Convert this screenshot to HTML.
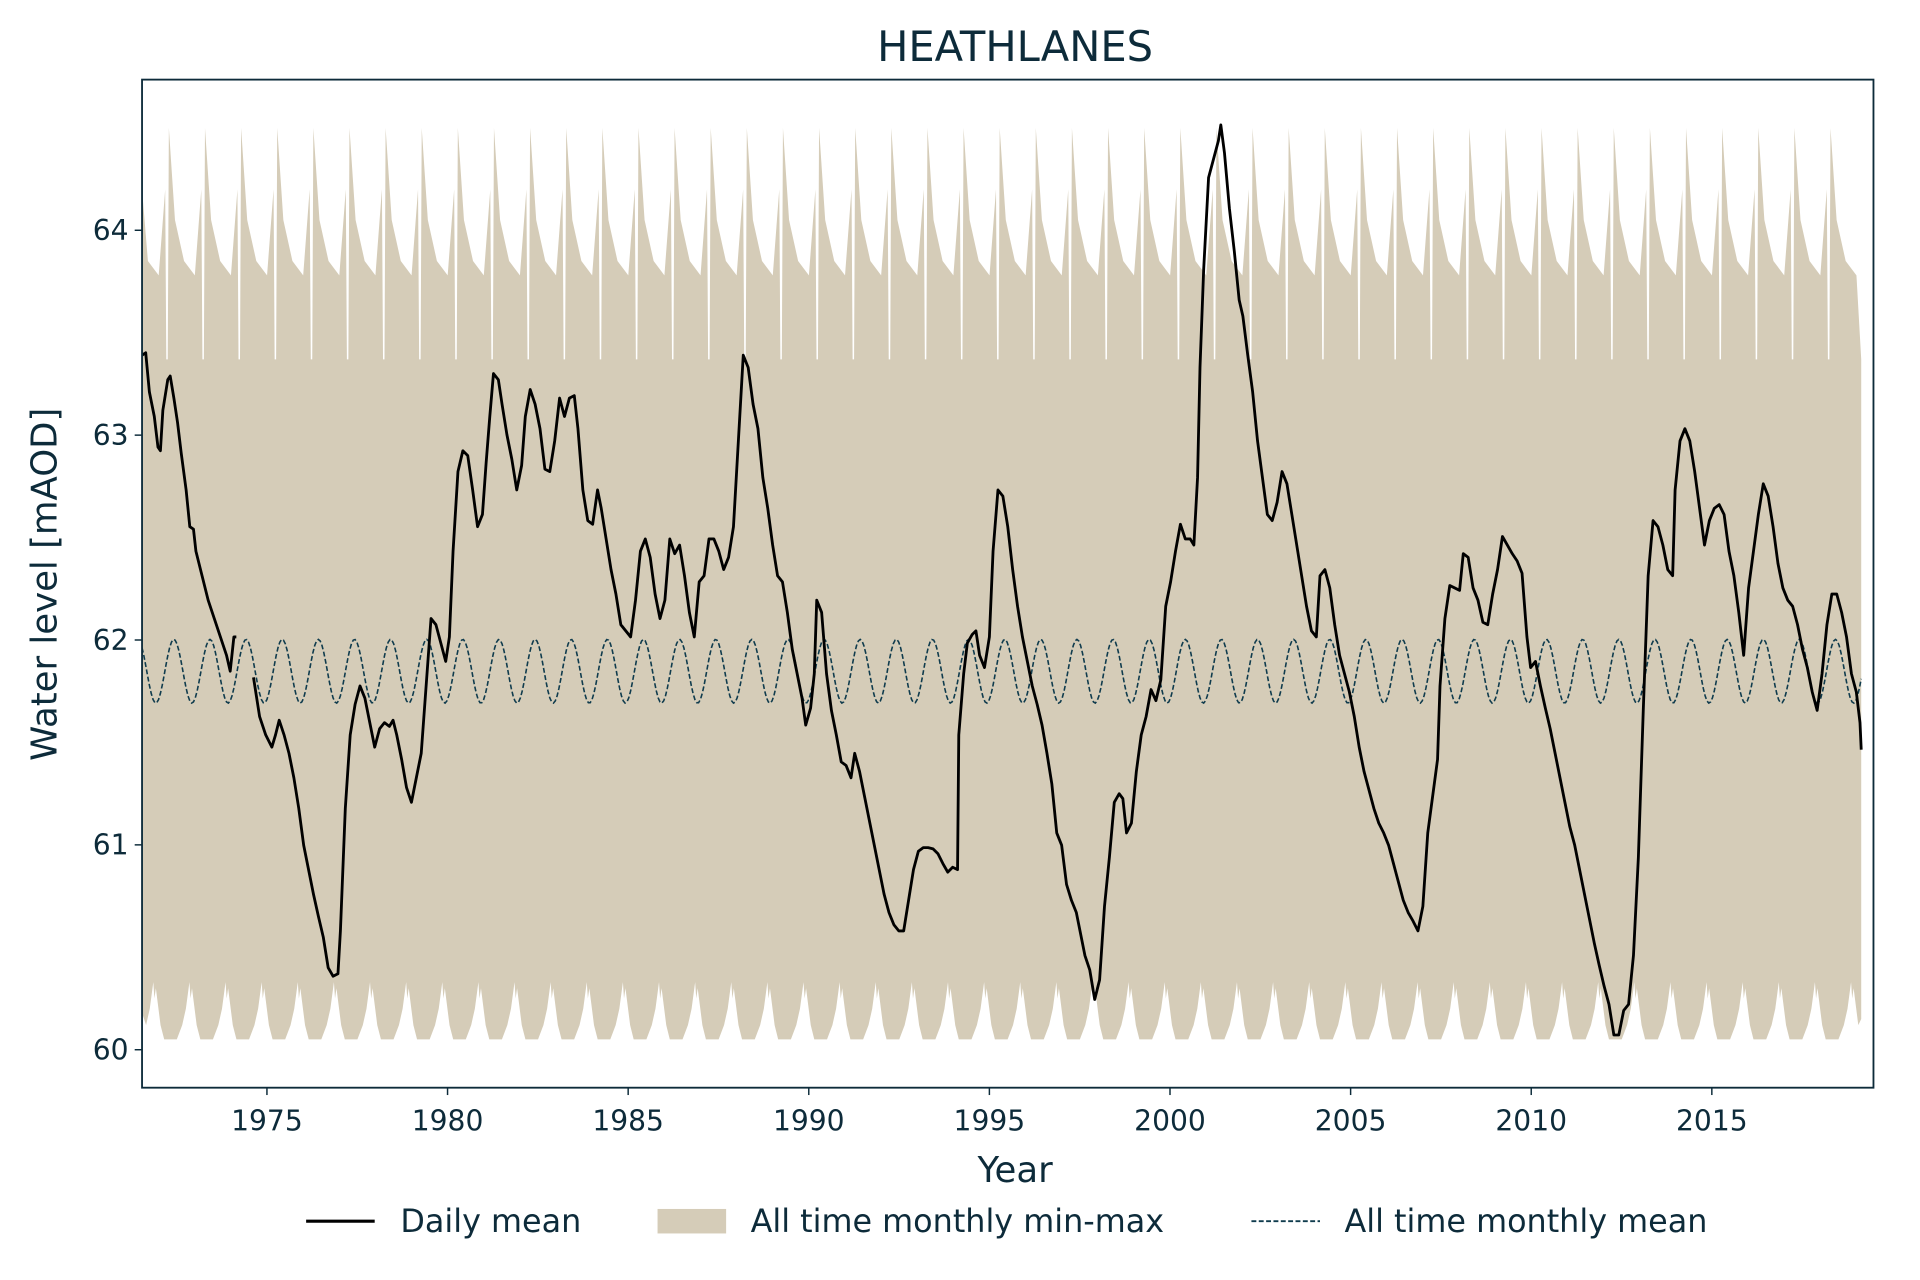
<!DOCTYPE html>
<html><head><meta charset="utf-8"><style>
html,body{margin:0;padding:0;background:#fff;width:1920px;height:1280px;overflow:hidden}
#w{width:1568px;height:1045px;transform:scale(1.22449,1.22488);transform-origin:0 0}
text{font-family:"DejaVu Sans","Liberation Sans",sans-serif;fill:#0d2b3a}
</style></head><body><div id="w">
<svg id="s" width="1568" height="1045" xmlns="http://www.w3.org/2000/svg">
<defs><clipPath id="c"><rect x="116" y="65" width="1414" height="823"/></clipPath></defs>
<g id="plot" clip-path="url(#c)"></g>
<rect x="116" y="65" width="1414" height="823" fill="none" stroke="#0d2b3a" stroke-width="1.5"/>
<g id="ax"></g>
<text x="829" y="50" font-size="34" text-anchor="middle">HEATHLANES</text>
<text x="829" y="965" font-size="29" text-anchor="middle">Year</text>
<text transform="translate(46,477) rotate(-90)" font-size="29" text-anchor="middle">Water level [mAOD]</text>
<line x1="250" y1="997" x2="306" y2="997" stroke="#000" stroke-width="2.5"/>
<text x="327" y="1006" font-size="26">Daily mean</text>
<rect x="537" y="987" width="56" height="20" fill="#d5ccb8"/>
<text x="613" y="1006" font-size="26">All time monthly min-max</text>
<line x1="1022" y1="997" x2="1078" y2="997" stroke="#0f3b4d" stroke-width="1.5" stroke-dasharray="4,2"/>
<text x="1098" y="1006" font-size="26">All time monthly mean</text>
</svg></div>
<script>
var X=function(yr){return 218+(yr-1975)*29.5},Y=function(v){return 857-(v-60)*167.25};
var p=document.getElementById('plot'),ax=document.getElementById('ax'),NS='http://www.w3.org/2000/svg';
function el(t,a,par){var e=document.createElementNS(NS,t);for(var k in a)e.setAttribute(k,a[k]);(par||p).appendChild(e);return e}
var x0=116,x1=1520,up=[],lo=[];
var U=[[0,63.37],[0.03,64.5],[0.2,64.05],[0.45,63.85],[0.75,63.78],[0.93,64.2],[0.96,63.37]];
var L=[[0,60.05],[0.25,60.05],[0.4,60.12],[0.5,60.2],[0.6,60.33],[0.63,60.25],[0.67,60.3],[0.8,60.12],[0.9,60.05]];
for(var k=-1;k<50;k++){var b=137+29.5*k;
U.forEach(function(q){var x=b+q[0]*29.5;if(x>=x0&&x<=x1)up.push([x,Y(q[1])])});
L.forEach(function(q){var x=b+q[0]*29.5;if(x>=x0&&x<=x1)lo.push([x,Y(q[1])])});}
up.unshift([x0,Y(64.2)]);up.push([x1,Y(63.37)]);lo.unshift([x0,Y(60.18)]);lo.push([x1,Y(60.15)]);
var d='M'+up.map(function(q){return q[0].toFixed(1)+','+q[1].toFixed(1)}).join('L');
d+='L'+lo.reverse().map(function(q){return q[0].toFixed(1)+','+q[1].toFixed(1)}).join('L')+'Z';
el('path',{d:d,fill:'#d5ccb8'});
var m=[];for(var x=x0;x<=x1;x+=1.5){var ph=(x-142)/29.5*2*Math.PI;m.push(x.toFixed(1)+','+(548-26*Math.cos(ph)).toFixed(1))}
el('polyline',{points:m.join(' '),fill:'none',stroke:'#0f3b4d','stroke-width':1.3,'stroke-dasharray':'4,2'});
var a="116,290 119,288 122,320 126,340 129,365 131,368 133,335 137,310 139,307 142,325 145,345 148,370 152,400 155,430 158,432 160,450 165,470 170,490 175,505 180,520 185,535 188,548 191,520 193,520";
var b2="207,553 212,585 217,600 222,610 225,600 228,588 232,600 236,615 240,635 244,660 248,690 252,710 256,730 260,748 264,765 268,790 272,797 276,795 278,760 282,660 286,600 290,575 294,560 298,570 302,590 306,610 310,595 314,590 318,593 321,588 324,600 328,620 332,643 336,655 340,635 344,615 348,560 352,505 356,510 360,525 364,540 367,520 370,450 374,385 378,368 382,372 386,400 390,430 394,420 397,378 400,340 403,305 407,310 410,330 414,355 418,375 422,400 426,380 429,340 433,318 437,330 441,350 445,383 449,385 453,360 457,325 461,340 465,325 469,323 472,350 476,400 480,425 484,428 488,400 491,415 495,440 499,465 503,485 507,510 511,515 515,520 519,490 523,450 527,440 531,455 535,485 539,505 543,490 547,440 551,452 555,445 559,470 563,500 567,520 571,475 575,470 579,440 583,440 587,450 591,465 595,455 599,430 603,360 607,290 611,300 615,330 619,350 623,390 627,415 631,445 635,470 639,475 643,500 647,530 651,550 655,570 658,592 662,578 665,550 667,490 671,500 675,550 679,580 683,600 687,622 691,625 695,635 698,615 702,630 706,650 710,670 714,690 718,710 722,730 726,745 730,755 734,760 738,760 742,735 746,710 750,695 754,692 758,692 762,693 766,697 770,705 774,712 778,708 782,710 783,600 787,550 790,525 794,518 797,515 800,535 804,545 808,520 811,450 815,400 819,405 823,430 827,465 831,495 835,520 839,540 843,560 847,575 851,592 855,615 859,640 863,680 867,690 871,722 875,735 879,745 883,765 886,780 890,792 894,816 898,800 902,740 906,700 910,655 914,648 917,652 920,680 924,672 928,630 932,600 936,585 940,563 944,572 948,555 952,495 956,475 960,450 964,428 968,440 972,440 975,445 978,390 980,300 983,220 987,145 991,130 995,115 997,102 1000,125 1004,170 1008,205 1012,245 1015,258 1019,290 1023,320 1027,360 1031,390 1035,420 1039,425 1043,410 1047,385 1051,395 1055,420 1059,445 1063,470 1067,495 1071,515 1075,520 1078,470 1082,465 1086,480 1090,510 1094,535 1098,550 1102,565 1106,585 1110,610 1114,630 1118,645 1122,660 1126,672 1130,680 1134,690 1138,705 1142,720 1146,735 1150,745 1154,752 1158,760 1162,740 1166,680 1170,650 1174,620 1176,560 1180,505 1184,478 1188,480 1192,482 1195,452 1199,455 1203,480 1207,490 1211,508 1215,510 1219,485 1223,465 1227,438 1231,445 1235,452 1239,458 1243,468 1247,520 1250,545 1254,540 1258,560 1262,578 1266,595 1270,615 1274,635 1278,655 1282,675 1286,690 1290,710 1294,730 1298,750 1302,770 1306,788 1310,805 1314,820 1318,845 1322,845 1326,825 1330,820 1334,780 1338,700 1342,580 1346,470 1350,425 1354,430 1358,445 1362,465 1366,470 1368,400 1372,360 1376,350 1380,360 1384,385 1388,415 1392,445 1396,425 1400,415 1404,412 1408,420 1412,450 1416,470 1420,500 1424,535 1428,480 1432,450 1436,420 1440,395 1444,405 1448,430 1452,460 1456,480 1460,490 1464,495 1468,510 1472,530 1476,545 1480,565 1484,580 1488,550 1492,510 1496,485 1500,485 1504,500 1508,520 1512,550 1516,565 1519,590 1520,612";
[a,b2].forEach(function(s){el('polyline',{points:s,fill:'none',stroke:'#000','stroke-width':2.3,'stroke-linejoin':'round'})});
for(var yr=1975;yr<=2015;yr+=5){var x=X(yr);el('line',{x1:x,y1:888,x2:x,y2:894,stroke:'#0d2b3a','stroke-width':1.2},ax);
var t=el('text',{x:x,y:923,'font-size':23,'text-anchor':'middle'},ax);t.textContent=yr;}
for(var v=60;v<=64;v++){var y=Y(v);el('line',{x1:110,y1:y,x2:116,y2:y,stroke:'#0d2b3a','stroke-width':1.2},ax);
var t=el('text',{x:105,y:y+8,'font-size':23,'text-anchor':'end'},ax);t.textContent=v;}
</script></body></html>
